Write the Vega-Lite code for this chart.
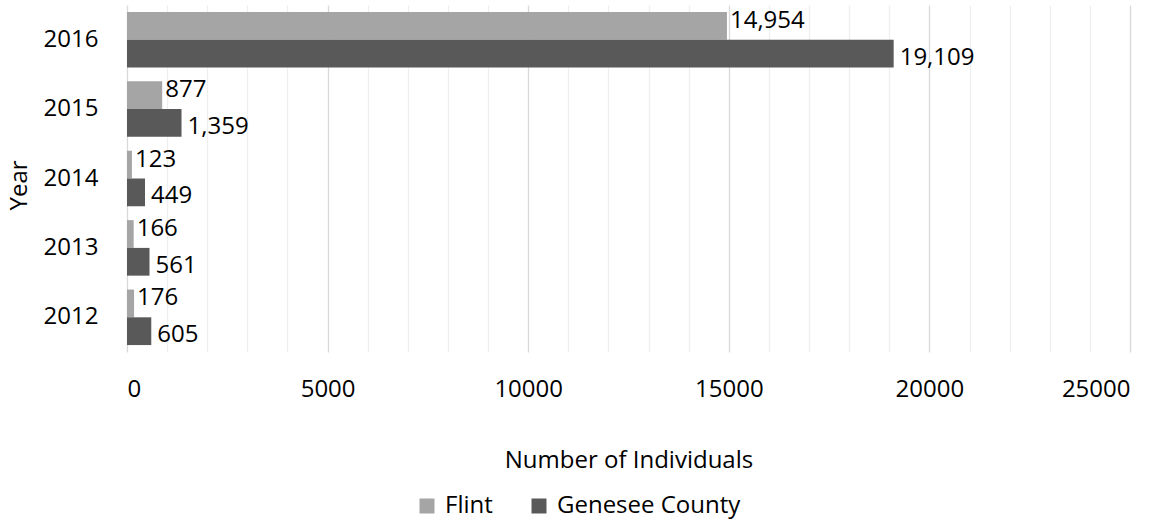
{
  "$schema": "https://vega.github.io/schema/vega-lite/v6.json",
  "width": 1003,
  "height": 347,
  "autosize": {"type": "none"},
  "padding": {"left": 127, "top": 5, "right": 38, "bottom": 170},
  "background": "white",
  "config": {
    "font": "Open Sans",
    "view": {"stroke": null},
    "axis": {"labelFont": "Open Sans", "titleFont": "Open Sans", "labelColor": "#000", "titleColor": "#000"},
    "legend": {"labelFont": "Open Sans", "labelColor": "#000"}
  },
  "data": {
    "values": [
      {"year": "2016", "series": "Flint", "value": 14954},
      {"year": "2016", "series": "Genesee County", "value": 19109},
      {"year": "2015", "series": "Flint", "value": 877},
      {"year": "2015", "series": "Genesee County", "value": 1359},
      {"year": "2014", "series": "Flint", "value": 123},
      {"year": "2014", "series": "Genesee County", "value": 449},
      {"year": "2013", "series": "Flint", "value": 166},
      {"year": "2013", "series": "Genesee County", "value": 561},
      {"year": "2012", "series": "Flint", "value": 176},
      {"year": "2012", "series": "Genesee County", "value": 605}
    ]
  },
  "encoding": {
    "y": {
      "field": "year",
      "type": "nominal",
      "sort": ["2016", "2015", "2014", "2013", "2012"],
      "scale": {"paddingInner": 0.2, "paddingOuter": 0.1},
      "axis": {
        "grid": false,
        "domain": false,
        "ticks": false,
        "labelPadding": 29,
        "labelFontSize": 24,
        "title": "Year",
        "titleFontSize": 24,
        "titleFontWeight": "normal",
        "titleX": -108,
        "titleY": 180,
        "titleAngle": -90,
        "titleAlign": "center",
        "titleBaseline": "middle"
      }
    },
    "yOffset": {"field": "series", "type": "nominal", "sort": ["Flint", "Genesee County"]},
    "x": {
      "field": "value",
      "type": "quantitative",
      "scale": {"domain": [0, 25000], "nice": false},
      "axis": {
        "values": [0, 1000, 2000, 3000, 4000, 5000, 6000, 7000, 8000, 9000, 10000, 11000, 12000, 13000, 14000, 15000, 16000, 17000, 18000, 19000, 20000, 21000, 22000, 23000, 24000, 25000],
        "grid": true,
        "gridColor": {"condition": {"test": "datum.value % 5000 === 0", "value": "#d9d9d9"}, "value": "#efefef"},
        "gridWidth": 1.3,
        "domain": false,
        "ticks": false,
        "labelExpr": "datum.value % 5000 === 0 ? '' + datum.value : ''",
        "labelPadding": 37,
        "labelFontSize": 24,
        "labelBaseline": "middle",
        "title": "Number of Individuals",
        "titleFontSize": 24,
        "titleFontWeight": "normal",
        "titleY": 108,
        "titleBaseline": "middle"
      }
    }
  },
  "layer": [
    {
      "mark": {"type": "bar"},
      "encoding": {
        "color": {
          "field": "series",
          "type": "nominal",
          "scale": {"domain": ["Flint", "Genesee County"], "range": ["#a5a5a5", "#595959"]},
          "legend": {
            "orient": "none",
            "legendX": 288,
            "legendY": 489,
            "direction": "horizontal",
            "title": null,
            "symbolType": "square",
            "symbolSize": 225,
            "symbolStrokeWidth": 0,
            "labelFontSize": 24,
            "labelLimit": 400,
            "labelOffset": 6,
            "columnPadding": 34
          }
        }
      }
    },
    {
      "transform": [{"filter": "datum.series === 'Flint'"}],
      "mark": {"type": "text", "align": "left", "baseline": "middle", "dx": 3, "dy": -5, "fontSize": 24, "color": "#000"},
      "encoding": {"text": {"field": "value", "type": "quantitative", "format": ","}}
    },
    {
      "transform": [{"filter": "datum.series === 'Genesee County'"}],
      "mark": {"type": "text", "align": "left", "baseline": "middle", "dx": 6, "dy": 4, "fontSize": 24, "color": "#000"},
      "encoding": {"text": {"field": "value", "type": "quantitative", "format": ","}}
    }
  ]
}
